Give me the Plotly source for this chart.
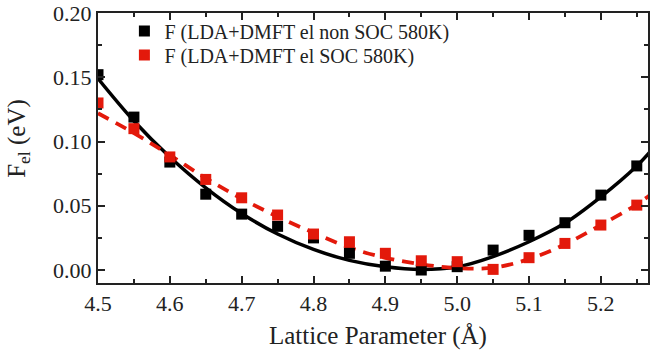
import plotly.graph_objects as go

# Data points
x_pts = [4.50, 4.55, 4.60, 4.65, 4.70, 4.75, 4.80, 4.85, 4.90, 4.95, 5.00, 5.05, 5.10, 5.15, 5.20, 5.25]
f_nonsoc = [0.152, 0.119, 0.084, 0.059, 0.0435, 0.034, 0.025, 0.013, 0.003, 0.000, 0.0026, 0.0155, 0.027, 0.0368, 0.0583, 0.081]
f_soc = [0.130, 0.110, 0.088, 0.0705, 0.0562, 0.0428, 0.028, 0.022, 0.013, 0.0072, 0.0065, 0.0005, 0.0096, 0.0207, 0.035, 0.0505]

# Fitted curves
x_fit = [4.50, 4.55, 4.60, 4.65, 4.70, 4.75, 4.80, 4.85, 4.90, 4.95, 5.00, 5.05, 5.10, 5.15, 5.20, 5.25, 5.27]
fit_nonsoc = [0.149, 0.116, 0.088, 0.064, 0.044, 0.028, 0.016, 0.0075, 0.0025, 0.0005, 0.0025, 0.0105, 0.022, 0.0365, 0.057, 0.081, 0.093]
fit_soc = [0.122, 0.1065, 0.0894, 0.0715, 0.0555, 0.0415, 0.029, 0.0175, 0.0095, 0.0045, 0.0015, 0.0018, 0.0085, 0.020, 0.035, 0.051, 0.059]

name_nonsoc = "F (LDA+DMFT el non SOC 580K)"
name_soc = "F (LDA+DMFT el SOC 580K)"
x_title = "Lattice Parameter (Å)"
y_title = "F<sub>el</sub> (eV)"

BLACK = "#000000"
RED = "#e3190b"
FONT = "Liberation Serif, Times New Roman, serif"

fig = go.Figure()
fig.add_trace(go.Scatter(x=x_fit, y=fit_nonsoc, mode="lines", line=dict(color=BLACK, width=3.5, shape="spline", smoothing=1.0), showlegend=False, hoverinfo="skip"))
fig.add_trace(go.Scatter(x=x_fit, y=fit_soc, mode="lines", line=dict(color=RED, width=3.8, dash="12px,8px", shape="spline", smoothing=1.0), showlegend=False, hoverinfo="skip"))
fig.add_trace(go.Scatter(x=x_pts, y=f_nonsoc, mode="markers", name=name_nonsoc, legend="legend", marker=dict(symbol="square", size=11, color=BLACK)))
fig.add_trace(go.Scatter(x=x_pts, y=f_soc, mode="markers", name=name_soc, legend="legend2", marker=dict(symbol="square", size=11, color=RED)))

axis_common = dict(
    showline=True, linecolor="#222", linewidth=2, mirror="allticks",
    ticks="inside", ticklen=7, tickwidth=1.5, tickcolor="#222",
    showgrid=False, zeroline=False,
    tickfont=dict(family=FONT, size=22, color="#222"),
)

legend_common = dict(x=0.048, xanchor="left", yanchor="top", bgcolor="rgba(0,0,0,0)",
                     font=dict(family=FONT, size=20, color="#222"), itemwidth=30)

fig.update_layout(
    width=651, height=355,
    margin=dict(l=98, r=1, t=13, b=72),
    paper_bgcolor="white", plot_bgcolor="white",
    font=dict(family=FONT, color="#222"),
    xaxis=dict(range=[4.5, 5.2656], tickvals=[4.5, 4.6, 4.7, 4.8, 4.9, 5.0, 5.1, 5.2],
               ticktext=["4.5", "4.6", "4.7", "4.8", "4.9", "5.0", "5.1", "5.2"],
               minor=dict(ticks="inside", ticklen=4, tickwidth=1.5, tickcolor="#222", dtick=0.05, tick0=4.5),
               **axis_common),
    yaxis=dict(range=[-0.0101, 0.20], tickvals=[0.0, 0.05, 0.10, 0.15, 0.20],
               ticktext=["0.00", "0.05", "0.10", "0.15", "0.20"],
               minor=dict(ticks="inside", ticklen=4, tickwidth=1.5, tickcolor="#222", dtick=0.025, tick0=0),
               **axis_common),
    legend=dict(y=1.0056, **legend_common),
    legend2=dict(y=0.9167, **legend_common),
    showlegend=True,
    annotations=[
        dict(text=x_title, xref="paper", yref="paper", x=0.509, y=-0.196, xanchor="center", yanchor="middle",
             showarrow=False, font=dict(family=FONT, size=25, color="#222")),
        dict(text=y_title, xref="paper", yref="paper", x=-0.145, y=0.535, xanchor="center", yanchor="middle",
             textangle=-90, showarrow=False, font=dict(family=FONT, size=25, color="#222")),
    ],
)

fig.write_html("out.html")
